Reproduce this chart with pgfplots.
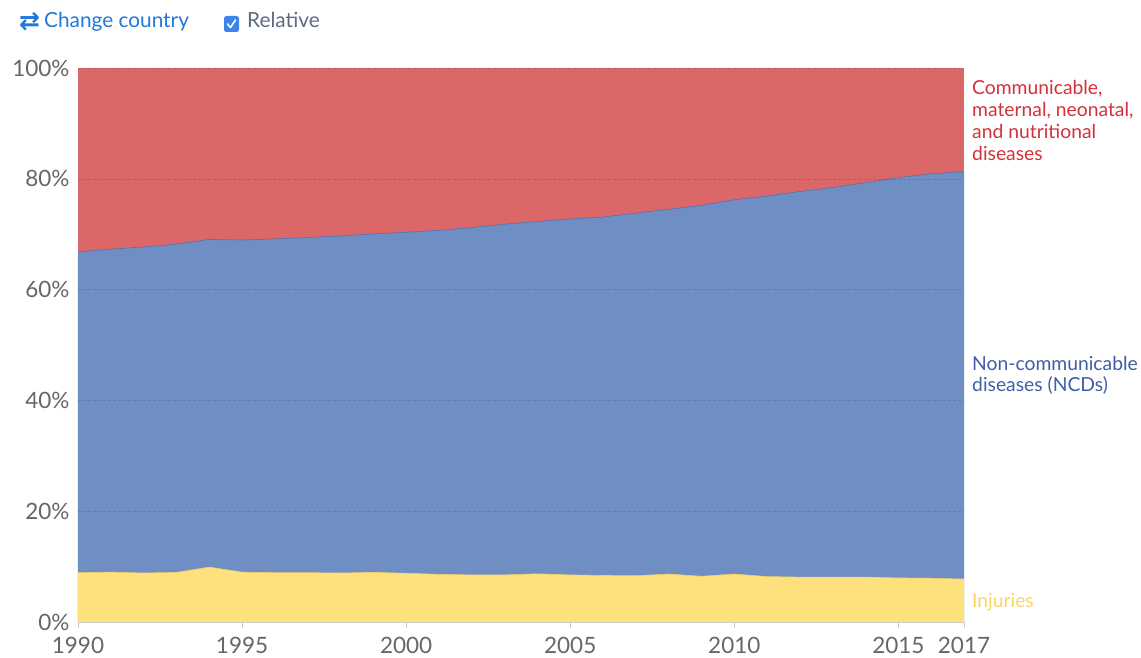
\documentclass[border=0pt]{standalone}
\usepackage{pgfplots}
\pgfplotsset{compat=1.18}
\usepackage{pgfplotstable}
\usepackage{fontspec}
\setmainfont{Lato}
\newfontfamily\dejavu{DejaVu Sans}
\definecolor{cred}{HTML}{DB6769}
\definecolor{cblue}{HTML}{6F8FC4}
\definecolor{cyellow}{HTML}{FEE07C}
\definecolor{ncdline}{HTML}{5470AE}
\definecolor{injline}{HTML}{F2CF6C}
\definecolor{labred}{HTML}{D4303A}
\definecolor{labblue}{HTML}{3E5EA8}
\definecolor{labyellow}{HTML}{FAD660}
\definecolor{textgray}{HTML}{666666}
\definecolor{linkblue}{HTML}{1F78DC}
\definecolor{boxblue}{HTML}{3D83EA}
\definecolor{relgray}{HTML}{5B6B80}

\pgfplotstableread{
yr inj top
1990 8.9 66.8
1991 9.0 67.3
1992 8.85 67.7
1993 8.95 68.2
1994 9.9 69.05
1995 9.0 68.95
1996 8.9 69.15
1997 8.9 69.4
1998 8.85 69.7
1999 8.95 70.05
2000 8.8 70.35
2001 8.6 70.7
2002 8.5 71.2
2003 8.5 71.8
2004 8.7 72.3
2005 8.5 72.75
2006 8.4 73.1
2007 8.35 73.8
2008 8.65 74.5
2009 8.25 75.2
2010 8.65 76.2
2011 8.2 76.9
2012 8.1 77.7
2013 8.1 78.4
2014 8.1 79.3
2015 7.95 80.2
2016 7.9 80.9
2017 7.75 81.3
}\data

\begin{document}
\begin{tikzpicture}[x=1pt, y=1pt]
\useasboundingbox (-78,-35) rectangle (1063,622);
\begin{axis}[
  at={(0,0)}, anchor=south west,
  scale only axis, width=886pt, height=554pt,
  xmin=1990, xmax=2017, ymin=0, ymax=100,
  axis on top,
  axis lines*=left,
  x axis line style={draw=black!20, line width=0.8pt},
  y axis line style={draw=none},
  xtick={1990,1995,2000,2005,2010,2015,2017},
  ytick={0,20,40,60,80,100},
  yticklabel={\pgfmathprintnumber{\tick}\%},
  tick label style={font=\fontsize{22.5}{22.5}\selectfont, text=textgray},
  xticklabel style={yshift=-6pt},
  yticklabel style={xshift=1pt},
  /pgf/number format/assume math mode=true,
  /pgf/number format/1000 sep={},
  xtick style={draw=black!20, line width=0.8pt},
  major tick length=6pt,
  tick align=outside,
  ytick style={draw=none},
  ymajorgrids,
  grid style={dash pattern=on 3pt off 2pt, black, opacity=0.13, line width=0.6pt},
]
\addplot[fill=cred, draw=none] coordinates {(1990,100) (2017,100)} \closedcycle;
\addplot[fill=cblue, draw=none] table[x=yr, y=top] {\data} \closedcycle;
\addplot[fill=cyellow, draw=none] table[x=yr, y=inj] {\data} \closedcycle;
\addplot[draw=ncdline, line width=0.6pt] table[x=yr, y=top] {\data};
\addplot[draw=injline, line width=0.6pt] table[x=yr, y=inj] {\data};
\end{axis}
% right-hand labels
\begin{scope}[every node/.style={anchor=base west, inner sep=0pt, font=\fontsize{19.3}{21.7}\selectfont}]
\node[text=labred] at (894,527) {Communicable,};
\node[text=labred] at (894,505.3) {maternal, neonatal,};
\node[text=labred] at (894,483.6) {and nutritional};
\node[text=labred] at (894,461.9) {diseases};
\node[text=labblue] at (894,252) {Non-communicable};
\node[text=labblue] at (894,230.3) {diseases (NCDs)};
\node[text=labyellow] at (894,15) {Injuries};
\end{scope}
% top controls
\node[anchor=west, inner sep=0pt, text=linkblue, font=\dejavu\bfseries\fontsize{25}{25}\selectfont] at (-59,600.5) {⇄};
\node[anchor=base west, inner sep=0pt, text=linkblue, font=\fontsize{20.8}{22}\selectfont] at (-34,594) {Change country};
\fill[boxblue, rounded corners=2.5pt] (146,590) rectangle (161,606);
\draw[white, line width=1.6pt, line cap=round, line join=round] (149.5,598) -- (152.5,594.5) -- (157.5,602);
\node[anchor=base west, inner sep=0pt, text=relgray, font=\fontsize{20.8}{22}\selectfont] at (169,594) {Relative};
\end{tikzpicture}
\end{document}
